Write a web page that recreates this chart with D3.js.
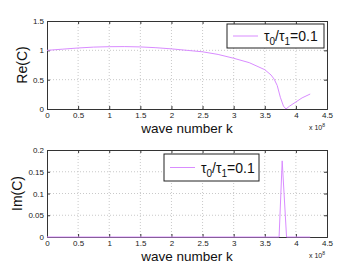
<!DOCTYPE html>
<html><head><meta charset="utf-8">
<script src="https://cdn.jsdelivr.net/npm/d3@7"></script>
<style>body{margin:0;background:#fff}svg{display:block}text{font-family:"Liberation Sans",Arial,sans-serif}</style>
</head><body><div id="c"></div>
<script>
const kRe = [0,0.25,0.5,0.75,1,1.25,1.5,1.75,2,2.25,2.5,2.75,3,3.25,3.5,3.6,3.65,3.7,3.75,3.8,3.84,3.9,4.0,4.1,4.23];
const reC = [1.0,1.02,1.04,1.055,1.062,1.064,1.058,1.045,1.025,1.0,0.975,0.93,0.865,0.79,0.67,0.58,0.51,0.40,0.2,0.05,0.0,0.05,0.12,0.19,0.255];
const kIm = [0,3.73,3.78,3.85,4.23];
const imC = [0,0,0.175,0,0];
const xTicks = [0,0.5,1,1.5,2,2.5,3,3.5,4,4.5];
const reTicks = [0,0.5,1,1.5];
const imTicks = [0,0.05,0.1,0.15,0.2];
const legendLabel = ["τ","0","/τ","1","=0.1"];
const lineColor = "#d98cff";

const W=362,H=273;
const svg=d3.select("#c").append("svg").attr("width",W).attr("height",H);

function panel(top,bottom,yDomain,yTicks,kArr,vArr,yLabel,yLabelX,legendBox){
  const x=d3.scaleLinear().domain([0,4.5]).range([47,327]);
  const y=d3.scaleLinear().domain(yDomain).range([bottom,top]);
  const g=svg.append("g");
  g.selectAll(".gx").data(xTicks.slice(1,-1)).enter().append("line")
    .attr("x1",d=>x(d)).attr("x2",d=>x(d)).attr("y1",top).attr("y2",bottom)
    .attr("stroke","#bbb").attr("stroke-width",0.8).attr("stroke-dasharray","1,2");
  g.selectAll(".gy").data(yTicks.slice(1,-1)).enter().append("line")
    .attr("y1",d=>y(d)).attr("y2",d=>y(d)).attr("x1",47).attr("x2",327)
    .attr("stroke","#bbb").attr("stroke-width",0.8).attr("stroke-dasharray","1,2");
  const xa=g.append("g").attr("transform",`translate(0,${bottom})`)
    .call(d3.axisBottom(x).tickValues(xTicks).tickSize(-3).tickPadding(3).tickFormat(d3.format("")));
  const xa2=g.append("g").attr("transform",`translate(0,${top})`)
    .call(d3.axisTop(x).tickValues(xTicks).tickSize(-3).tickFormat(""));
  const ya=g.append("g").attr("transform",`translate(47,0)`)
    .call(d3.axisLeft(y).tickValues(yTicks).tickSize(-3).tickPadding(3).tickFormat(d3.format("")));
  const ya2=g.append("g").attr("transform",`translate(327,0)`)
    .call(d3.axisRight(y).tickValues(yTicks).tickSize(-3).tickFormat(""));
  [xa,xa2,ya,ya2].forEach(a=>{a.selectAll("path,line").attr("stroke","#333");a.selectAll("text").attr("font-size",8).attr("fill","#222");});
  const line=d3.line().x((d,i)=>x(kArr[i])).y(d=>y(d));
  g.append("path").datum(vArr).attr("d",line).attr("fill","none").attr("stroke",lineColor).attr("stroke-width",1);
  g.append("text").attr("transform",`translate(${yLabelX},${(top+bottom)/2}) rotate(-90)`)
    .attr("text-anchor","middle").attr("font-size",14).attr("fill","#111").text(yLabel);
  g.append("text").attr("x",187).attr("y",bottom+24).attr("text-anchor","middle").attr("font-size",13.5).attr("fill","#111").text("wave number k");
  const t=g.append("text").attr("x",309).attr("y",bottom+21).attr("font-size",7).attr("fill","#222");
  t.append("tspan").text("x 10");
  t.append("tspan").attr("dy",-3).attr("font-size",5).text("8");
  const [lx,ly,lw,lh]=legendBox;
  g.append("rect").attr("x",lx).attr("y",ly).attr("width",lw).attr("height",lh).attr("fill","#fff").attr("stroke","#222").attr("stroke-width",1);
  g.append("line").attr("x1",lx+6).attr("x2",lx+31).attr("y1",ly+lh/2).attr("y2",ly+lh/2).attr("stroke",lineColor).attr("stroke-width",1);
  const lt=g.append("text").attr("x",lx+37).attr("y",ly+lh/2+5).attr("font-size",14).attr("fill","#111");
  lt.append("tspan").text(legendLabel[0]);
  lt.append("tspan").attr("dy",4).attr("font-size",10).text(legendLabel[1]);
  lt.append("tspan").attr("dy",-4).text(legendLabel[2]);
  lt.append("tspan").attr("dy",4).attr("font-size",10).text(legendLabel[3]);
  lt.append("tspan").attr("dy",-4).text(legendLabel[4]);
}
panel(21,109,[0,1.5],reTicks,kRe,reC,"Re(C)",27,[227,24,97,24]);
panel(150,237,[0,0.2],imTicks,kIm,imC,"Im(C)",22,[164,154,95,27]);
</script></body></html>
